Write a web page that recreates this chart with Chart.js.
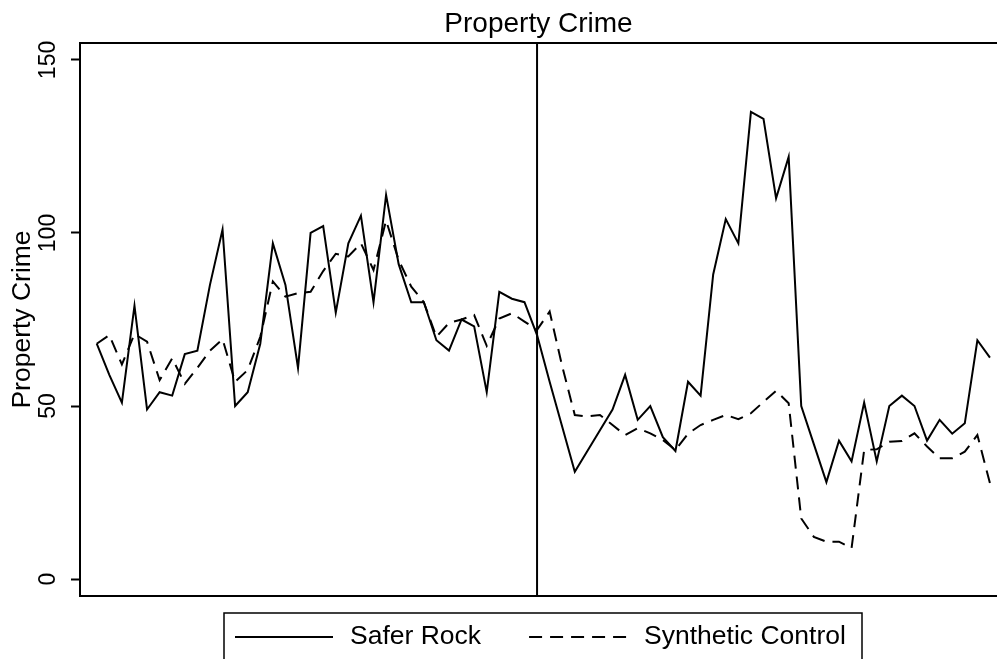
<!DOCTYPE html>
<html>
<head>
<meta charset="utf-8">
<title>Property Crime</title>
<script src="https://cdn.jsdelivr.net/npm/chart.js@4"></script>
<style>
    html, body { margin: 0; padding: 0; background: #fff; }
    #wrap { width: 997px; height: 659px; }
</style>
</head>
<body>
<div id="wrap"><canvas id="crime-chart" width="997" height="659"></canvas></div>
<script>
const months = [
    1, 2, 3, 4, 5, 6, 7, 8, 9, 10, 11, 12,
    13, 14, 15, 16, 17, 18, 19, 20, 21, 22, 23, 24,
    25, 26, 27, 28, 29, 30, 31, 32, 33, 34, 35, 36,
    37, 38, 39, 40, 41, 42, 43, 44, 45, 46, 47, 48,
    49, 50, 51, 52, 53, 54, 55, 56, 57, 58, 59, 60,
    61, 62, 63, 64, 65, 66, 67, 68, 69, 70, 71, 72
];
const treatMonth = 36;

const saferRock = [
    68, 59, 51, 79, 49, 54, 53, 65, 66, 85,
    101, 50, 54, 68, 97, 85, 61, 100, 102, 77,
    97, 105, 80, 111, 91, 80, 80, 69, 66, 75,
    73, 54, 83, 81, 80, 70.5, 57, 44, 31, 37,
    43, 49, 59, 46, 50, 41, 37, 57, 53, 88,
    104, 97, 135, 133, 110, 122, 50, 39, 28, 40,
    34, 51, 34, 50, 53, 50, 40, 46, 42, 45,
    69, 64
];
const syntheticControl = [
    68, 70.5, 62, 70.8, 68.6, 57.5, 63.8, 56.4, 61, 66,
    69.3, 57, 60.4, 70, 86, 81.6, 82.6, 83, 89, 94,
    93.2, 97, 89.3, 103.6, 92.2, 84.5, 80, 70, 74, 75,
    76.3, 67.4, 75.3, 76.8, 74.4, 72, 77.3, 61.5, 47.4, 47,
    47.4, 44.5, 41.6, 43.6, 42.1, 40.2, 37.3, 42, 44.5, 46,
    47.4, 46.2, 47.9, 51.2, 54.4, 50.8, 17.5, 12.2, 10.8, 10.8,
    8.9, 37.3, 37.5, 39.7, 39.9, 42.1, 38.3, 34.9, 34.9, 36.8,
    41.6, 27.7
];
const yTicks = [0, 50, 100, 150];

const FONT = "'Liberation Sans', Arial, sans-serif";

function toPoints(values) {
    return values.map((v, i) => ({ x: months[i], y: v }));
}

// frame line, treatment line and the boxed legend under the plot
const extrasPlugin = {
    id: 'extras',
    afterDatasetsDraw(chart) {
        const { ctx, chartArea: a, scales } = chart;
        const tx = scales.x.getPixelForValue(treatMonth);
        ctx.save();
        ctx.strokeStyle = '#000';
        ctx.lineWidth = 2;
        ctx.beginPath();
        ctx.moveTo(tx, a.top);
        ctx.lineTo(tx, a.bottom);
        ctx.moveTo(a.left, a.top);
        ctx.lineTo(a.right, a.top);
        ctx.stroke();
        ctx.restore();
    },
    afterDraw(chart) {
        const ctx = chart.ctx;
        const boxLeft = 224, boxTop = 613, boxRight = 862;
        const midY = 637;
        ctx.save();
        ctx.strokeStyle = '#000';
        ctx.lineWidth = 1.5;
        ctx.strokeRect(boxLeft, boxTop, boxRight - boxLeft, 70);
        ctx.font = '26.5px ' + FONT;
        ctx.fillStyle = '#000';
        ctx.textBaseline = 'middle';
        let x = boxLeft + 11;
        chart.data.datasets.forEach(ds => {
            ctx.lineWidth = 2;
            ctx.setLineDash(ds.borderDash || []);
            ctx.beginPath();
            ctx.moveTo(x, midY);
            ctx.lineTo(x + 98, midY);
            ctx.stroke();
            ctx.setLineDash([]);
            ctx.fillText(ds.label, x + 115, midY);
            x += 115 + ctx.measureText(ds.label).width + 48;
        });
        ctx.restore();
    }
};

const ctx = document.getElementById('crime-chart').getContext('2d');

const myChart = new Chart(ctx, {
    type: 'line',
    data: {
        datasets: [
            {
                label: 'Safer Rock',
                data: toPoints(saferRock),
                borderColor: '#000',
                borderWidth: 2,
                pointRadius: 0,
                tension: 0,
                fill: false
            },
            {
                label: 'Synthetic Control',
                data: toPoints(syntheticControl),
                borderColor: '#000',
                borderWidth: 2,
                borderDash: [13, 8],
                pointRadius: 0,
                tension: 0,
                fill: false
            }
        ]
    },
    options: {
        responsive: false,
        animation: false,
        layout: { padding: { left: 0, right: 0, top: 0, bottom: 63 } },
        plugins: {
            legend: { display: false },
            tooltip: { enabled: false },
            title: {
                display: true,
                text: 'Property Crime',
                fullSize: false,
                color: '#000',
                font: { family: FONT, size: 28, weight: 'normal', lineHeight: 1.2 },
                padding: { top: 7.8, bottom: 1.6 }
            }
        },
        scales: {
            x: {
                type: 'linear',
                min: -0.33,
                max: 72.56,
                grid: { display: false },
                ticks: { display: false },
                border: { display: true, color: '#000', width: 2 },
                afterFit: scale => { scale.height = 0; }
            },
            y: {
                type: 'linear',
                min: -4.9,
                max: 154.9,
                afterBuildTicks: scale => {
                    scale.ticks = yTicks.map(v => ({ value: v }));
                },
                afterFit: scale => { scale.width = 80; },
                grid: {
                    drawOnChartArea: false,
                    drawTicks: true,
                    tickLength: 9,
                    tickWidth: 2,
                    color: '#000'
                },
                border: { display: true, color: '#000', width: 2 },
                ticks: {
                    color: '#000',
                    font: { family: FONT, size: 23 },
                    minRotation: 90,
                    maxRotation: 90,
                    crossAlign: 'center',
                    padding: 3
                },
                title: {
                    display: true,
                    text: 'Property Crime',
                    color: '#000',
                    font: { family: FONT, size: 26.5 },
                    padding: { top: 7, bottom: 4 }
                }
            }
        }
    },
    plugins: [extrasPlugin]
});
</script>
</body>
</html>
